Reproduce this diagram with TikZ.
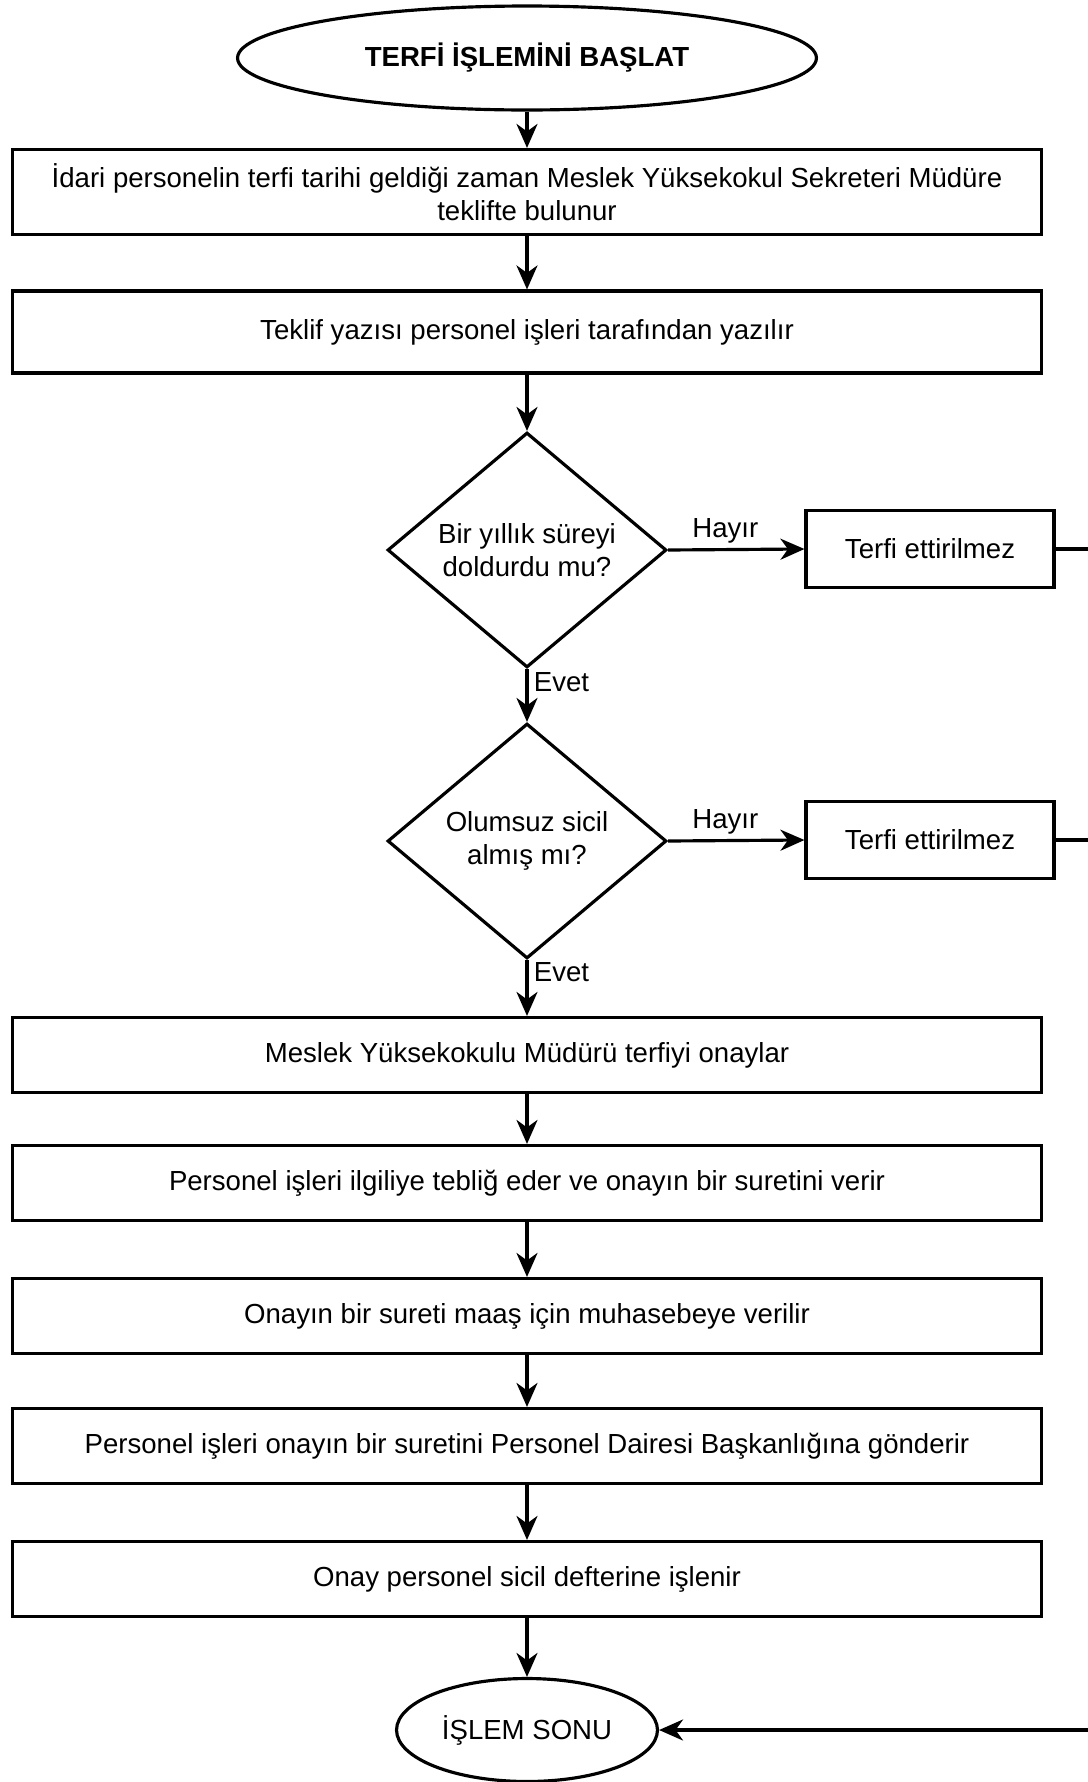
\documentclass[tikz,border=0pt]{standalone}
\usepackage{fontspec}
\setmainfont{Liberation Sans}
\usetikzlibrary{shapes.geometric,arrows.meta}
\begin{document}
\begin{tikzpicture}[x=0.02cm, y=-0.02cm, line width=1.8pt,
    >={Stealth[length=0.48cm, width=0.42cm, inset=0.15cm]},
    font=\fontsize{15.7}{18.6}\selectfont,
    adim/.style={draw, rectangle, minimum width=20.6cm, minimum height=1.5cm, align=center, inner sep=0pt},
    karar/.style={draw, diamond, aspect=1.19, minimum width=5.58cm, minimum height=4.7cm, inner sep=0pt, align=center},
    uc/.style={draw, ellipse, align=center, inner sep=0pt},
    red/.style={draw, rectangle, minimum width=4.96cm, minimum height=1.54cm},
    etiket/.style={inner sep=3pt}]
  \useasboundingbox (0,0) rectangle (1088,1782);
  \node[uc, minimum width=11.58cm, minimum height=2.08cm] (bas) at (527,58) {\textbf{TERFİ İŞLEMİNİ BAŞLAT}};
  \node[adim, minimum height=1.7cm] (a1) at (527,192) {İdari personelin terfi tarihi geldiği zaman Meslek Yüksekokul Sekreteri Müdüre\\teklifte bulunur};
  \node[adim, minimum height=1.64cm] (a2) at (527,332) {Teklif yazısı personel işleri tarafından yazılır};
  \node[karar] (k1) at (527,550) {Bir yıllık süreyi\\doldurdu mu?};
  \node[red] (r1) at (930,549) {Terfi ettirilmez};
  \node[karar] (k2) at (527,841) {Olumsuz sicil\\almış mı?};
  \node[red] (r2) at (930,840) {Terfi ettirilmez};
  \node[adim] (a3) at (527,1055) {Meslek Yüksekokulu Müdürü terfiyi onaylar};
  \node[adim] (a4) at (527,1183) {Personel işleri ilgiliye tebliğ eder ve onayın bir suretini verir};
  \node[adim] (a5) at (527,1316) {Onayın bir sureti maaş için muhasebeye verilir};
  \node[adim] (a6) at (527,1446) {Personel işleri onayın bir suretini Personel Dairesi Başkanlığına gönderir};
  \node[adim] (a7) at (527,1579) {Onay personel sicil defterine işlenir};
  \node[uc, minimum width=5.22cm, minimum height=2.06cm] (son) at (527,1730) {İŞLEM SONU};
  \coordinate (ray) at (1110,0);
  % ana akis
  \draw[->] (bas) -- (a1);
  \draw[->] (a1) -- (a2);
  \draw[->] (a2) -- (k1);
  \draw[->] (k1) -- node[etiket, right, pos=0.25] {Evet} (k2);
  \draw[->] (k2) -- node[etiket, right, pos=0.22] {Evet} (a3);
  \draw[->] (a3) -- (a4);
  \draw[->] (a4) -- (a5);
  \draw[->] (a5) -- (a6);
  \draw[->] (a6) -- (a7);
  \draw[->] (a7) -- (son);
  % hayir dallari
  \draw[->] (k1.east) -- node[etiket, above, pos=0.42] {Hayır} (r1.west);
  \draw[->] (k2.east) -- node[etiket, above, pos=0.42] {Hayır} (r2.west);
  \draw[->] (r1.east) -- (r1.east -| ray) |- (son.east);
  \draw (r2.east) -- (r2.east -| ray);
\end{tikzpicture}
\end{document}
